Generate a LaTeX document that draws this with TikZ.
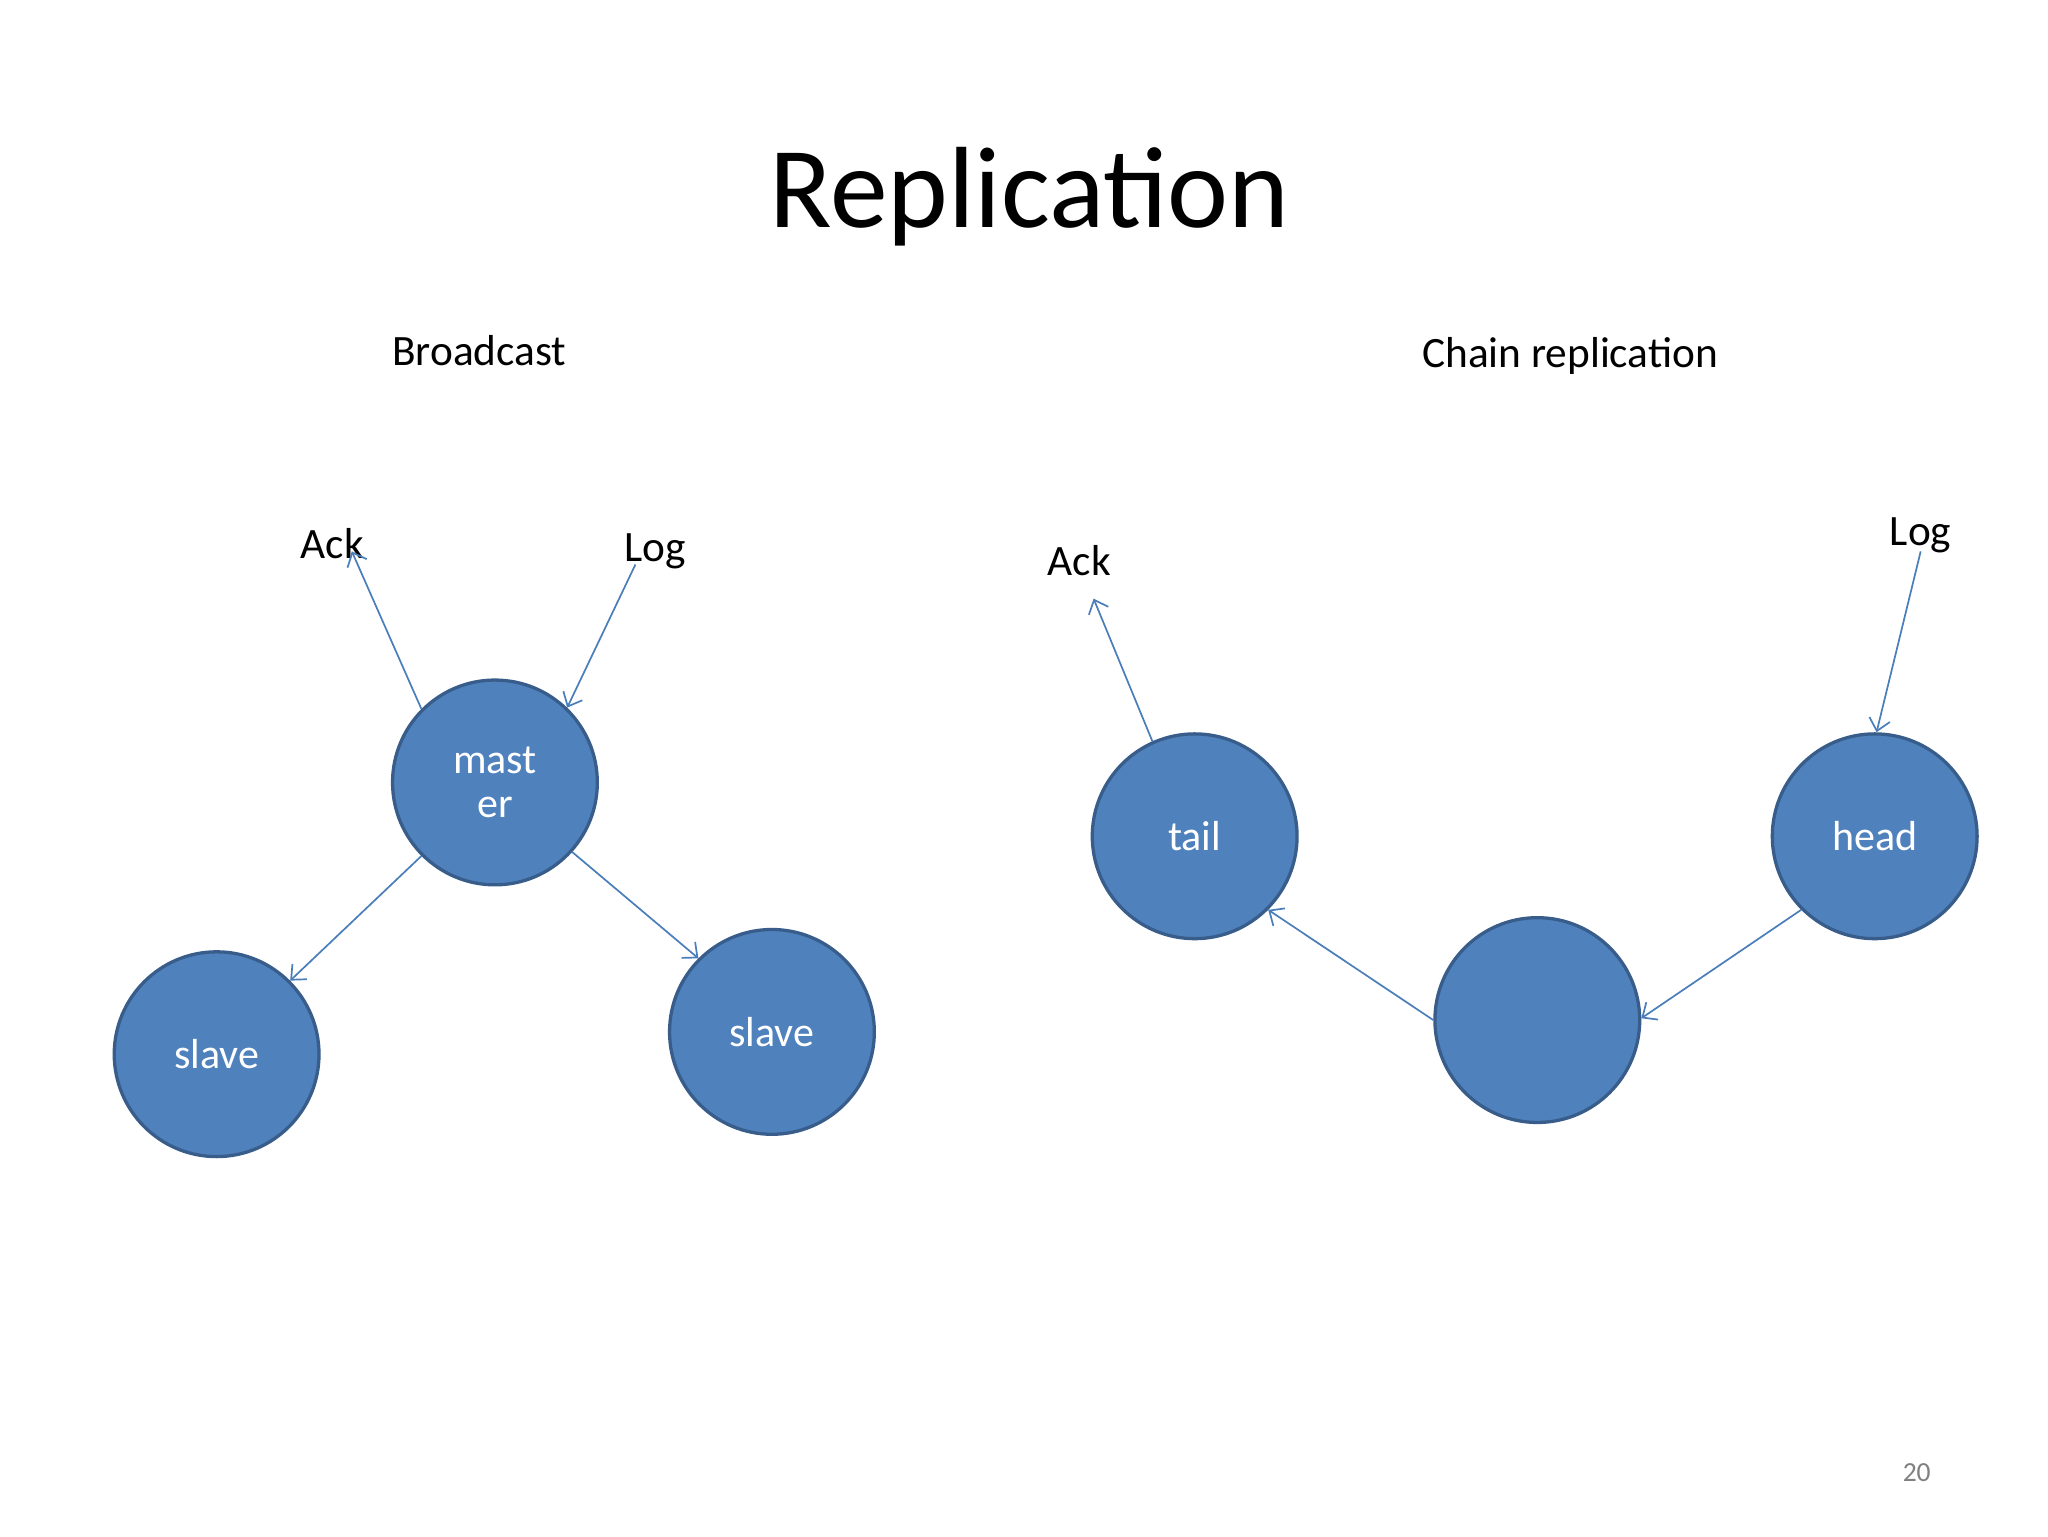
\documentclass[tikz,border=0pt]{standalone}
\usepackage{fontspec}
\setmainfont{Carlito}
\usetikzlibrary{arrows.meta}
\definecolor{nfill}{HTML}{4F81BD}
\definecolor{nline}{HTML}{385D8A}
\definecolor{aline}{HTML}{4A7EBB}
\begin{document}
\begin{tikzpicture}[x=1pt,y=-1pt,
  nd/.style={circle,fill=nfill,draw=nline,line width=2.5pt,minimum size=156pt,inner sep=0pt,text=white,font=\fontsize{32}{40}\selectfont,align=center},
  lbl/.style={font=\fontsize{33}{40}\selectfont,inner sep=0pt},
  ar/.style={draw=aline,line width=1.3pt,-{Straight Barb[length=9pt,width=16pt,line width=1.3pt]}}]
\useasboundingbox[fill=white] (0,0) rectangle (1560,1170);
\node[inner sep=0pt,font=\fontsize{88}{100}\selectfont] (title) at (784,150) {Replication};
\node[lbl] (bc) at (365,267) {Broadcast};
\node[lbl] (cr) at (1196,271) {Chain replication};
\node[inner sep=0pt,text=gray,font=\fontsize{21}{25}\selectfont] (pg) at (1460,1122) {20};

\node[nd] (master) at (377,596) {mast\\[-6pt]er};
\node[nd] (s1) at (165,803) {slave};
\node[nd] (s2) at (588,786) {slave};
\node[nd] (tail) at (910,637) {tail};
\node[nd] (mid) at (1171,777) {};
\node[nd] (head) at (1428,637) {head};

\node[lbl] (ack1) at (253,414) {Ack};
\node[lbl] (log1) at (499,420) {Log};
\node[lbl] (ack2) at (822,427) {Ack};
\node[lbl] (log2) at (1463,408) {Log};

\coordinate (a1) at (268,420);
\coordinate (l1) at (484,430);
\coordinate (a2) at (833,456);
\coordinate (l2) at (1463,420);

\draw[ar] (master.135) -- (a1);
\draw[ar] (l1) -- (master.46);
\draw[ar] (master.225) -- (s1.45);
\draw[ar] (master.318) -- (s2.135);
\draw[ar] (tail.114) -- (a2);
\draw[ar] (l2) -- (head.89);
\draw[ar] (head.225) -- (mid.1);
\draw[ar] (mid.180) -- (tail.315);
\end{tikzpicture}
\end{document}
